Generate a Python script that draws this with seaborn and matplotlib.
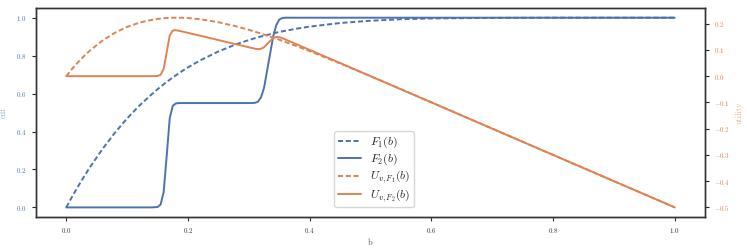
import numpy as np
import pandas as pd
import matplotlib
matplotlib.use("Agg")
import matplotlib.pyplot as plt
import seaborn as sns

# bid grid and curves
b = [0.0, 0.01, 0.02, 0.03, 0.04, 0.06, 0.08, 0.10, 0.12, 0.14, 0.15, 0.155, 0.16,
     0.165, 0.17, 0.175, 0.18, 0.185, 0.19, 0.20, 0.22, 0.25, 0.28, 0.30, 0.31,
     0.315, 0.32, 0.325, 0.33, 0.335, 0.34, 0.345, 0.35, 0.355, 0.36, 0.38, 0.40,
     0.45, 0.50, 0.55, 0.60, 0.70, 0.80, 0.90, 1.00]

F1 = [0.0, 0.059, 0.114, 0.167, 0.217, 0.310, 0.394, 0.469, 0.536, 0.595, 0.623, 0.636, 0.649,
      0.661, 0.673, 0.685, 0.696, 0.707, 0.718, 0.738, 0.775, 0.822, 0.861, 0.882, 0.892,
      0.897, 0.901, 0.905, 0.909, 0.913, 0.917, 0.921, 0.925, 0.928, 0.931, 0.943, 0.953,
      0.972, 0.984, 0.992, 0.996, 0.999, 1.0, 1.0, 1.0]

F2 = [0.0, 0.0, 0.0, 0.0, 0.0, 0.0, 0.0, 0.0, 0.0, 0.0, 0.002, 0.015, 0.08,
      0.27, 0.47, 0.535, 0.548, 0.55, 0.55, 0.55, 0.55, 0.55, 0.55, 0.55, 0.551,
      0.557, 0.58, 0.63, 0.72, 0.81, 0.90, 0.96, 0.99, 0.998, 1.0, 1.0, 1.0,
      1.0, 1.0, 1.0, 1.0, 1.0, 1.0, 1.0, 1.0]

U1 = [0.0, 0.0289, 0.0547, 0.0785, 0.0998, 0.1364, 0.1655, 0.1876, 0.2037, 0.2142, 0.2181,
      0.2194, 0.2207, 0.2214, 0.2221, 0.2226, 0.2227, 0.2227, 0.2226, 0.2214, 0.2170, 0.2055,
      0.1894, 0.1764, 0.1695, 0.1659, 0.1622, 0.1584, 0.1545, 0.1506, 0.1467, 0.1428, 0.1388,
      0.1346, 0.1303, 0.1132, 0.0953, 0.0486, 0.0, -0.0496, -0.0996, -0.1998, -0.30, -0.40, -0.50]

U2 = [0.0, 0.0, 0.0, 0.0, 0.0, 0.0, 0.0, 0.0, 0.0, 0.0, 0.0007, 0.005, 0.027,
      0.090, 0.155, 0.174, 0.175, 0.173, 0.1705, 0.165, 0.154, 0.1375, 0.121, 0.11, 0.1047,
      0.103, 0.1044, 0.110, 0.122, 0.134, 0.144, 0.149, 0.1485, 0.1447, 0.14, 0.12, 0.10,
      0.05, 0.0, -0.05, -0.10, -0.20, -0.30, -0.40, -0.50]

BLUE = "#4C72B0"
ORANGE = "#DD8452"

sns.set_theme(style="ticks")
plt.rcParams["font.family"] = ["cmr10", "DejaVu Serif"]
plt.rcParams["mathtext.fontset"] = "cm"
plt.rcParams["axes.formatter.use_mathtext"] = True
plt.rcParams["lines.dashed_pattern"] = [2.6, 1.4]

df = pd.DataFrame({"b": b, "F1": F1, "F2": F2, "U1": U1, "U2": U2})

fig, ax1 = plt.subplots(figsize=(7.47, 2.49), dpi=100)
fig.subplots_adjust(left=0.048, right=0.944, bottom=0.129, top=0.967)
ax2 = ax1.twinx()

lw = 1.4
sns.lineplot(data=df, x="b", y="F1", ax=ax1, color=BLUE, linestyle="--",
             linewidth=lw, label=r"$F_1(b)$", legend=False)
sns.lineplot(data=df, x="b", y="F2", ax=ax1, color=BLUE, linewidth=lw,
             label=r"$F_2(b)$", legend=False)
sns.lineplot(data=df, x="b", y="U1", ax=ax2, color=ORANGE, linestyle="--",
             linewidth=lw, label=r"$U_{v,F_1}(b)$", legend=False)
sns.lineplot(data=df, x="b", y="U2", ax=ax2, color=ORANGE, linewidth=lw,
             label=r"$U_{v,F_2}(b)$", legend=False)

ax1.set_xlabel("b", fontsize=6, color="#555555", labelpad=3)
ax1.set_ylabel("cdf", fontsize=6, color=BLUE, alpha=0.6, labelpad=6)
ax2.set_ylabel("utility", fontsize=6, color=ORANGE, alpha=0.6, labelpad=4)

ax1.set_xticks([0.0, 0.2, 0.4, 0.6, 0.8, 1.0])
ax1.set_yticks([0.0, 0.2, 0.4, 0.6, 0.8, 1.0])
ax2.set_yticks([-0.5, -0.4, -0.3, -0.2, -0.1, 0.0, 0.1, 0.2])

ax1.tick_params(axis="x", labelsize=5, length=3, width=0.8, colors="#333333")
ax1.tick_params(axis="y", labelsize=5, length=3, width=0.8, labelcolor=BLUE)
ax2.tick_params(axis="y", labelsize=5, length=3, width=0.8, labelcolor=ORANGE)

for ax in (ax1, ax2):
    for sp in ax.spines.values():
        sp.set_color("#333333")
        sp.set_linewidth(1.0)

h1, l1 = ax1.get_legend_handles_labels()
h2, l2 = ax2.get_legend_handles_labels()
ax2.legend(h1 + h2, l1 + l2, loc="lower center", bbox_to_anchor=(0.505, 0.035),
           fontsize=8.5, frameon=True, handlelength=2.0, handletextpad=0.7,
           labelspacing=0.15, borderpad=0.3, borderaxespad=0.2)

fig.savefig("out.png", dpi=100)
